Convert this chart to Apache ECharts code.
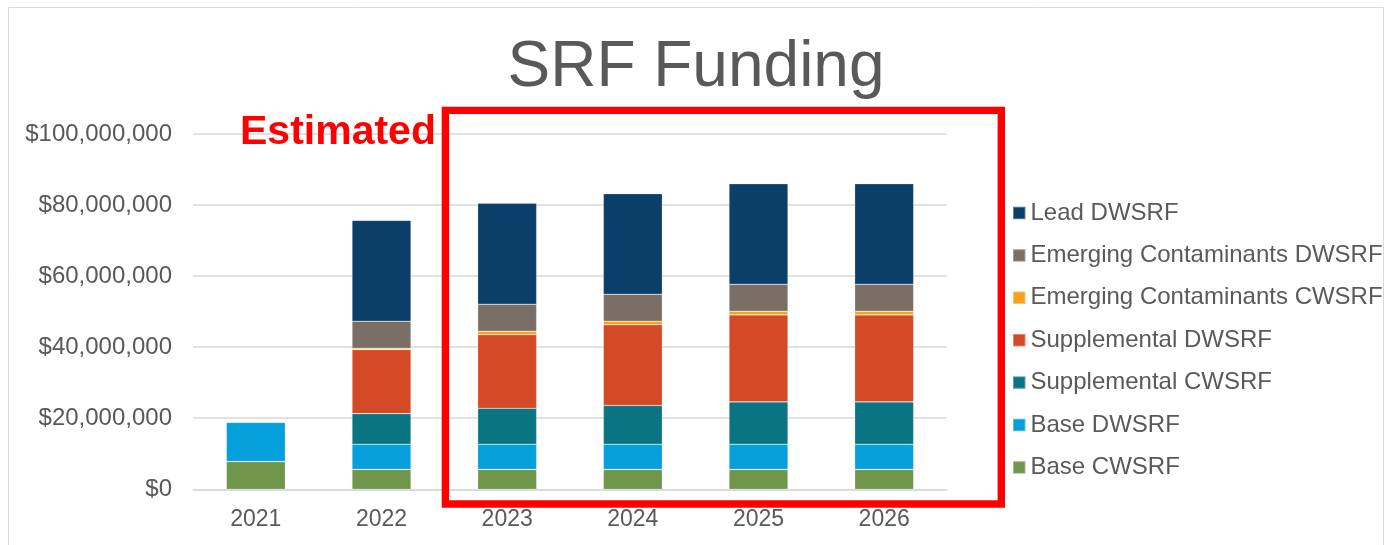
<!DOCTYPE html>
<html>
<head>
<meta charset="utf-8">
<script src="https://cdn.jsdelivr.net/npm/echarts@6/dist/echarts.min.js"></script>
<style>
html,body{margin:0;padding:0;background:#fff;}
#chart{width:1392px;height:545px;}
</style>
</head>
<body>
<div id="chart"></div>
<script>
const categories = ['2021', '2022', '2023', '2024', '2025', '2026'];
const baseCWSRF = [7800000, 5600000, 5600000, 5600000, 5600000, 5600000];
const baseDWSRF = [11000000, 7100000, 7100000, 7100000, 7100000, 7100000];
const suppCWSRF = [null, 8600000, 10100000, 10900000, 11900000, 11900000];
const suppDWSRF = [null, 18000000, 20700000, 22700000, 24500000, 24500000];
const ecCWSRF = [null, 400000, 1000000, 1000000, 1000000, 1000000];
const ecDWSRF = [null, 7600000, 7600000, 7600000, 7600000, 7600000];
const leadDWSRF = [null, 28400000, 28400000, 28300000, 28300000, 28300000];
const yTicks = { min: 0, max: 100000000, interval: 20000000 };

const FONT = '"Liberation Sans", Arial, sans-serif';
const seriesDefs = [
  { name: 'Base CWSRF', data: baseCWSRF, color: '#6F964B' },
  { name: 'Base DWSRF', data: baseDWSRF, color: '#059FDB' },
  { name: 'Supplemental CWSRF', data: suppCWSRF, color: '#0B7482' },
  { name: 'Supplemental DWSRF', data: suppDWSRF, color: '#D44926' },
  { name: 'Emerging Contaminants CWSRF', data: ecCWSRF, color: '#F7A11E' },
  { name: 'Emerging Contaminants DWSRF', data: ecDWSRF, color: '#7A6F66' },
  { name: 'Lead DWSRF', data: leadDWSRF, color: '#0B3F69' }
];

const chart = echarts.init(document.getElementById('chart'));
chart.setOption({
  animation: false,
  backgroundColor: '#ffffff',
  title: {
    text: 'SRF Funding',
    left: 'center',
    top: 36,
    padding: 0,
    textStyle: { fontFamily: FONT, fontSize: 64, fontWeight: 'normal', color: '#595959', lineHeight: 64 }
  },
  legend: {
    orient: 'vertical',
    left: 1012,
    top: 201,
    padding: 0,
    icon: 'rect',
    itemWidth: 12.5,
    itemHeight: 12.5,
    itemGap: 18.4,
    data: seriesDefs.map(s => s.name).reverse(),
    textStyle: { fontFamily: FONT, fontSize: 24, color: '#595959', lineHeight: 24, padding: [0, 0, 0, 0] }
  },
  grid: { left: 193, right: 445, top: 134, bottom: 55.7, containLabel: false },
  xAxis: {
    type: 'category',
    data: categories,
    axisLine: { show: true, lineStyle: { color: '#d9d9d9', width: 1.5 } },
    axisTick: { show: false },
    axisLabel: { fontFamily: FONT, fontSize: 23, color: '#595959', margin: 19 }
  },
  yAxis: {
    type: 'value',
    min: yTicks.min,
    max: yTicks.max,
    interval: yTicks.interval,
    axisLine: { show: false },
    axisTick: { show: false },
    splitLine: { lineStyle: { color: '#d9d9d9', width: 1.5 } },
    axisLabel: {
      fontFamily: FONT, fontSize: 24, color: '#595959', margin: 21,
      formatter: v => '$' + v.toLocaleString('en-US')
    }
  },
  series: seriesDefs.map(s => ({
    name: s.name,
    type: 'bar',
    stack: 'total',
    barWidth: 59,
    data: s.data,
    itemStyle: { color: s.color, borderColor: 'rgba(255,255,255,0.35)', borderWidth: 0.6 }
  })),
  graphic: [
    {
      type: 'rect', silent: true, z: -1,
      shape: { x: 8.5, y: 7.5, width: 1375, height: 560 },
      style: { fill: 'none', stroke: '#d9d9d9', lineWidth: 1 }
    },
    {
      type: 'text', silent: true, z: 10,
      left: 240, top: 133 - 20.5,
      style: { text: 'Estimated', fontFamily: FONT, fontSize: 41, fontWeight: 'bold', fill: '#FF0000' }
    },
    {
      type: 'rect', silent: true, z: 10,
      shape: { x: 445.4, y: 110.4, width: 555.9, height: 393.6 },
      style: { fill: 'none', stroke: '#FF0000', lineWidth: 7.4 }
    }
  ]
});
</script>
</body>
</html>
